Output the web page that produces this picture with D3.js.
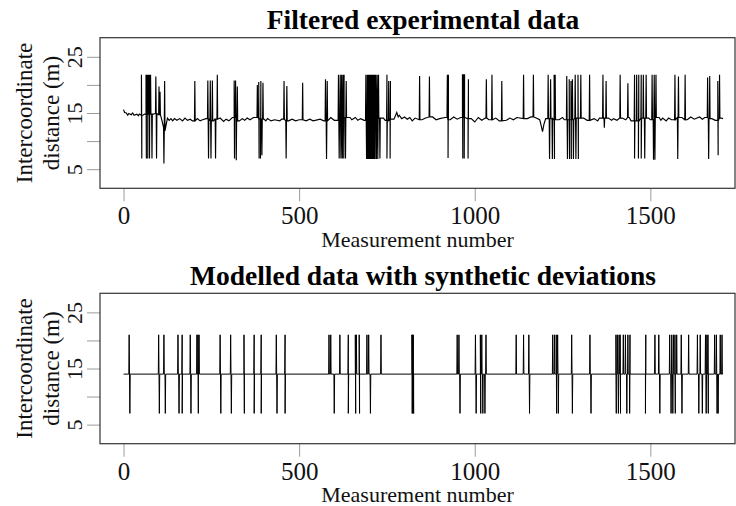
<!DOCTYPE html>
<html>
<head>
<meta charset="utf-8">
<script src="https://cdn.jsdelivr.net/npm/d3@7"></script>
<style>
  html, body { margin: 0; padding: 0; background: #fff; }
  svg { display: block; }
</style>
</head>
<body>
<div id="chart"></div>
<script>
// ───────────────────────────────────────
// Two stacked panels: filtered vs modelled intercoordinate distance
// ───────────────────────────────────────

// ── data ──────────────────────────────────────────────────────────────────────
const xTicks = [0, 500, 1000, 1500];
const yTicks = [5, 10, 15, 20, 25];
const yTickLabels = ['5', '', '15', '', '25'];

// top panel: slow baseline track [measurement, metres]
const topBase = [
  [0, 15.6], [3, 15.1], [8, 15.0], [12, 14.6], [15, 14.9], [22, 14.7], [26, 15.0], [30, 14.6],
  [38, 14.8], [42, 14.5], [45, 14.8], [55, 14.6], [60, 14.8], [85, 14.8], [90, 14.9],
  [105, 14.7], [110, 13.5], [114, 12.4], [118, 11.8], [121, 12.8], [125, 14.1], [130, 13.7],
  [135, 14.0], [140, 13.6], [145, 14.0], [152, 13.7], [160, 14.0], [168, 13.6], [175, 14.1],
  [182, 13.7], [190, 13.9], [196, 13.6], [210, 14.0], [218, 13.6], [225, 13.8], [235, 14.0],
  [256, 13.6], [260, 13.9], [275, 14.1], [285, 13.5], [292, 13.9], [300, 13.6], [310, 14.2],
  [330, 13.6], [338, 14.0], [345, 13.7], [352, 14.1], [360, 13.8], [370, 14.2], [400, 13.9],
  [405, 13.6], [410, 14.0], [420, 13.6], [430, 13.8], [445, 13.6], [450, 13.9], [470, 13.6],
  [480, 13.9], [490, 13.6], [500, 13.8], [520, 13.6], [530, 13.9], [540, 13.6], [560, 13.9],
  [570, 13.6], [590, 14.2], [600, 13.7], [645, 14.2], [650, 13.8], [660, 14.2], [667, 13.7],
  [675, 14.0], [685, 13.7], [740, 14.1], [745, 13.7], [770, 13.9], [778, 15.1], [782, 14.3],
  [785, 14.6], [792, 14.0], [800, 14.3], [808, 13.9], [815, 14.2], [822, 13.6], [830, 14.1],
  [850, 13.8], [860, 14.1], [880, 14.3], [890, 13.8], [900, 14.0], [915, 14.2], [930, 13.8],
  [940, 14.3], [950, 13.9], [960, 14.2], [990, 14.0], [1000, 13.4], [1010, 14.2], [1020, 13.7],
  [1030, 14.1], [1040, 13.8], [1060, 14.1], [1070, 13.6], [1090, 13.7], [1100, 14.1],
  [1110, 13.8], [1120, 14.2], [1150, 14.0], [1160, 14.3], [1175, 14.1], [1185, 13.8],
  [1189, 12.8], [1193, 11.7], [1197, 13.0], [1202, 14.0], [1240, 13.8], [1250, 14.2],
  [1255, 13.8], [1310, 14.1], [1320, 13.7], [1340, 14.0], [1350, 13.6], [1355, 14.1],
  [1380, 14.1], [1390, 13.7], [1395, 14.0], [1405, 13.7], [1420, 14.1], [1430, 13.8],
  [1440, 14.2], [1445, 13.6], [1495, 14.1], [1500, 13.8], [1525, 14.2], [1530, 13.7],
  [1535, 14.1], [1545, 13.6], [1552, 14.1], [1560, 13.8], [1590, 14.2], [1605, 13.8],
  [1615, 14.3], [1625, 13.9], [1640, 14.3], [1648, 13.9], [1655, 14.2], [1675, 14.0],
  [1685, 13.7], [1702, 14.1], [1707, 14.0]
];

// top panel: upward outliers [measurement, metres]
const topUp = [
  [51, 21.8], [64, 21.8], [67, 21.8], [70, 21.8], [72, 21.8], [75, 21.8], [77, 21.8],
  [92, 21.5], [101, 19.7], [104, 18.8], [117, 20.7], [203, 20.7], [240, 20.8], [247, 20.8],
  [253, 20.8], [267, 21.8], [315, 20.8], [319, 20.8], [324, 19.7], [381, 20.0], [385, 20.5],
  [391, 20.7], [397, 20.4], [457, 20.7], [465, 19.8], [510, 20.4], [575, 21.0], [580, 20.7],
  [612, 21.8], [617, 21.8], [621, 21.8], [625, 21.8], [628, 21.8], [634, 20.7],
  [690, 21.8], [694, 21.8], [697, 21.8], [700, 21.8], [703, 21.8], [706, 21.8], [709, 21.8],
  [712, 21.8], [715, 21.8], [718, 21.8], [722, 21.8], [726, 21.8], [750, 21.8], [755, 20.7],
  [760, 20.7], [843, 21.6], [871, 21.5], [922, 21.8], [925, 21.8], [965, 21.9], [968, 21.9],
  [971, 21.9], [982, 21.0], [1033, 21.0], [1049, 21.8], [1077, 20.7], [1139, 21.8],
  [1167, 21.8], [1209, 21.8], [1216, 21.0], [1226, 21.8], [1229, 21.8], [1262, 21.6],
  [1269, 21.0], [1274, 20.7], [1278, 21.0], [1286, 21.8], [1294, 21.8], [1302, 21.8],
  [1327, 21.8], [1365, 21.8], [1374, 20.7], [1414, 21.8], [1436, 20.3], [1455, 21.8],
  [1461, 21.8], [1467, 21.8], [1474, 21.8], [1480, 21.8], [1488, 21.8], [1505, 21.8],
  [1511, 21.8], [1516, 21.8], [1570, 21.8], [1580, 21.5], [1599, 21.8], [1663, 21.3],
  [1669, 21.6], [1692, 20.7], [1697, 21.8]
];

// top panel: downward outliers and short dips [measurement, metres]
const topDown = [
  [52, 6.9], [65, 6.9], [69, 6.9], [74, 6.9], [81, 6.9], [94, 6.9], [115, 6.0], [242, 6.9],
  [249, 6.9], [262, 6.9], [316, 6.9], [321, 6.6], [386, 6.9], [390, 6.9], [394, 7.5],
  [463, 6.9], [578, 6.8], [614, 6.9], [619, 6.9], [623, 6.9], [627, 6.9], [632, 6.9],
  [692, 6.8], [695, 6.8], [698, 6.8], [701, 6.8], [704, 6.8], [707, 6.8], [710, 6.8],
  [713, 6.8], [716, 6.8], [720, 6.8], [724, 6.8], [730, 6.9], [750, 6.9], [759, 6.9],
  [924, 7.0], [966, 6.9], [970, 6.9], [981, 6.9], [1213, 6.8], [1221, 6.8], [1227, 6.8],
  [1264, 6.8], [1270, 6.8], [1275, 6.8], [1281, 6.8], [1288, 6.8], [1295, 6.8],
  [1369, 12.4], [1455, 6.9], [1466, 6.9], [1474, 6.9], [1484, 6.9], [1509, 6.7], [1513, 6.7],
  [1578, 6.8], [1666, 6.8], [1693, 7.5]
];

// bottom panel: modelled level and synthetic deviations
const botBaseLevel = 14;
const botUpLevel = 21;
const botDownLevel = 7;
const botRange = [0, 1707];
const botUp = [
  16, 100, 115, 155, 167, 190, 209, 212, 215, 275, 305, 343, 372, 392, 435, 460, 585, 590,
  616, 640, 660, 663, 671, 693, 698, 733, 821, 823, 825, 950, 955, 1002, 1016, 1020, 1032,
  1118, 1139, 1154, 1222, 1227, 1232, 1236, 1276, 1328, 1402, 1406, 1411, 1414, 1423, 1429,
  1436, 1442, 1487, 1513, 1524, 1555, 1561, 1566, 1570, 1575, 1588, 1609, 1634, 1642, 1657,
  1661, 1664, 1683, 1688, 1699, 1704
];
const botDown = [
  18, 102, 119, 158, 167, 192, 213, 277, 307, 344, 372, 392, 437, 460, 600, 640, 661, 672,
  703, 822, 824, 826, 958, 1004, 1017, 1023, 1029, 1156, 1233, 1238, 1278, 1331, 1403, 1409,
  1415, 1433, 1441, 1486, 1527, 1559, 1564, 1571, 1590, 1638, 1648, 1659, 1665, 1690, 1693
];

// ── layout ───────────────────────────────────────────────────────────────────
const W = 736, H = 506;
const FONT = '"Liberation Serif", "DejaVu Serif", serif';
const BOX_X = [100, 735];
const panels = [
  { title: 'Filtered experimental data', top: 37.7, bottom: 188.3, titleY: 29, lw: 1.15 },
  { title: 'Modelled data with synthetic deviations', top: 293.3, bottom: 443.7, titleY: 285, lw: 1 },
];

// spike list → drawable path points (each outlier sits between two baseline samples)
function buildSeries(base, spikes) {
  const sorted = spikes.slice().sort((a, b) => a[0] - b[0]);
  const nearestBase = i => base.reduce((a, b) => Math.abs(b[0] - i) < Math.abs(a[0] - i) ? b : a)[1];
  const pts = [];
  base.forEach(d => {
    if (!sorted.some(s => Math.abs(s[0] - d[0]) <= 1)) pts.push([d[0], d[1], 1]);
  });
  sorted.forEach(([i, v]) => {
    const b = nearestBase(i);
    pts.push([i - 1, b, 0], [i, v, 1], [i + 1, b, 2]);
  });
  return pts
    .map((d, k) => ({ x: d[0], y: d[1], o: d[2], k }))
    .sort((a, b) => a.x - b.x || a.o - b.o || a.k - b.k);
}

panels[0].series = buildSeries(topBase, [...topUp, ...topDown]);
panels[1].series = buildSeries(
  botRange.map(i => [i, botBaseLevel]),
  [...botUp.map(i => [i, botUpLevel]), ...botDown.map(i => [i, botDownLevel])]
);

const svg = d3.select('#chart').append('svg')
  .attr('width', W).attr('height', H)
  .attr('viewBox', `0 0 ${W} ${H}`);

const x = d3.scaleLinear().domain([-67, 1741]).range(BOX_X);

panels.forEach(p => {
  const y = d3.scaleLinear().domain([1.6, 28.4]).range([p.bottom, p.top]);
  const g = svg.append('g');

  // title
  g.append('text')
    .attr('x', 423).attr('y', p.titleY)
    .attr('text-anchor', 'middle')
    .attr('font-family', FONT).attr('font-weight', 'bold').attr('font-size', 27.5)
    .attr('fill', '#000')
    .text(p.title);

  // y axis (R style: rotated labels, every other label dropped)
  const yAx = g.append('g')
    .attr('transform', `translate(${BOX_X[0]},0)`)
    .call(d3.axisLeft(y).tickValues(yTicks).tickSize(13)
      .tickFormat((d, i) => yTickLabels[i]));
  yAx.select('.domain').remove();
  yAx.selectAll('line').attr('stroke', '#9a9a9a');
  yAx.selectAll('text')
    .attr('transform', 'rotate(-90)')
    .attr('x', 0).attr('y', -18).attr('dy', 0)
    .attr('text-anchor', 'middle')
    .attr('font-family', FONT).attr('font-size', 22).attr('fill', '#111');

  // x axis
  const xAx = g.append('g')
    .attr('transform', `translate(0,${p.bottom})`)
    .call(d3.axisBottom(x).tickValues(xTicks).tickSize(13).tickFormat(d3.format('d')));
  xAx.select('.domain').remove();
  xAx.selectAll('line').attr('stroke', '#9a9a9a');
  xAx.selectAll('text')
    .attr('y', 36).attr('dy', 0)
    .attr('font-family', FONT).attr('font-size', 25).attr('fill', '#111');

  // axis titles
  g.append('text')
    .attr('x', (BOX_X[0] + BOX_X[1]) / 2).attr('y', p.bottom + 58.5)
    .attr('text-anchor', 'middle')
    .attr('font-family', FONT).attr('font-size', 22).attr('fill', '#111')
    .text('Measurement number');

  const mid = (p.top + p.bottom) / 2;
  [['Intercoordinate', 32], ['distance (m)', 59]].forEach(([t, bx]) => {
    g.append('text')
      .attr('transform', `translate(${bx},${mid}) rotate(-90)`)
      .attr('text-anchor', 'middle')
      .attr('font-family', FONT).attr('font-size', 23).attr('fill', '#111')
      .text(t);
  });

  // data line
  g.append('path')
    .datum(p.series)
    .attr('fill', 'none')
    .attr('stroke', '#000')
    .attr('stroke-width', p.lw)
    .attr('d', d3.line().x(d => x(d.x)).y(d => y(d.y)));

  // plot box
  g.append('rect')
    .attr('x', BOX_X[0]).attr('y', p.top)
    .attr('width', BOX_X[1] - BOX_X[0]).attr('height', p.bottom - p.top)
    .attr('fill', 'none').attr('stroke', '#333').attr('stroke-width', 1.2);
});
</script>
</body>
</html>
